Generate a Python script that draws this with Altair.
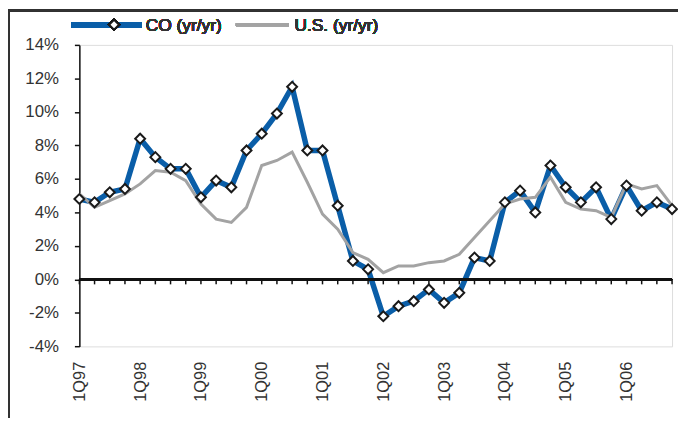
import altair as alt
import pandas as pd

years = ["97", "98", "99", "00", "01", "02", "03", "04", "05", "06"]
quarters = [f"{q}Q{y}" for y in years for q in range(1, 5)]

co = [4.8, 4.6, 5.2, 5.4, 8.4, 7.3, 6.6, 6.6, 4.9, 5.9, 5.5, 7.7,
      8.7, 9.9, 11.5, 7.7, 7.7, 4.4, 1.1, 0.6, -2.2, -1.6, -1.3, -0.6,
      -1.4, -0.8, 1.3, 1.1, 4.6, 5.3, 4.0, 6.8, 5.5, 4.6, 5.5, 3.6,
      5.6, 4.1, 4.6, 4.2]
us = [5.1, 4.3, 4.7, 5.1, 5.7, 6.5, 6.4, 5.9, 4.5, 3.6, 3.4, 4.3,
      6.8, 7.1, 7.6, 5.8, 3.9, 3.0, 1.6, 1.2, 0.4, 0.8, 0.8, 1.0,
      1.1, 1.5, 2.5, 3.5, 4.5, 4.8, 4.9, 6.1, 4.6, 4.2, 4.1, 3.7,
      5.7, 5.4, 5.6, 4.4]
label_quarters = [q for q in quarters if q.startswith("1Q")]
y_ticks = [-4, -2, 0, 2, 4, 6, 8, 10, 12, 14]

BLUE = "#0A5EA8"
GREY = "#A3A3A3"
TXT = "#333333"
FONT = "Arial"
W, H = 598, 304.2

df = pd.DataFrame({"q": quarters, "co": co, "us": us})

x_scale = alt.Scale(type="point", padding=0, domain=quarters)
x_axis = alt.Axis(values=label_quarters, labelAngle=270, domain=False,
                  ticks=False, labelPadding=15, labelFont=FONT,
                  labelFontSize=16.5, labelColor=TXT, title=None,
                  labelAlign="right", labelBaseline="middle",
                  labelOverlap=False, grid=False)
x_enc = alt.X("q:O", sort=quarters, scale=x_scale, axis=x_axis)
y_scale = alt.Scale(domain=[-4, 14], nice=False, zero=False)
y_axis = alt.Axis(values=y_ticks, labelExpr="datum.value + '%'", grid=False,
                  domainColor="#111", domainWidth=1.5, tickColor="#111",
                  tickWidth=1.5, tickSize=5, labelPadding=16, labelFont=FONT,
                  labelFontSize=17, labelColor=TXT, title=None,
                  labelOverlap=False, labelFontWeight="normal")


def y_enc(field):
    return alt.Y(f"{field}:Q", scale=y_scale, axis=y_axis, title=None)


base = alt.Chart(df)

co_line = base.mark_line(color=BLUE, strokeWidth=5.5).encode(x=x_enc, y=y_enc("co"))
us_line = base.mark_line(color=GREY, strokeWidth=3).encode(x=x_enc, y=y_enc("us"))
co_pts = base.mark_point(shape="diamond", filled=True, fill="white",
                         stroke="#1a1a1a", strokeWidth=2, size=100,
                         opacity=1).encode(x=x_enc, y=y_enc("co"))

zero_line = base.mark_rule(color="#111", strokeWidth=1.5).encode(
    x=alt.value(0), x2=alt.value(W),
    y=alt.YDatum(0, type="quantitative", scale=y_scale, axis=y_axis))
zero_ticks = base.mark_rule(color="#111", strokeWidth=1.5, y2Offset=5).encode(
    x=x_enc, y=alt.YDatum(0, type="quantitative", scale=y_scale, axis=y_axis),
    y2=alt.datum(0))

# legend
LY = -20.4
txt_kw = dict(align="left", baseline="middle", font=FONT, fontSize=17.5,
              fontWeight="normal", color=TXT)
leg_co_line = base.mark_rule(color=BLUE, strokeWidth=5.5).encode(
    x=alt.value(-8), x2=alt.value(63), y=alt.value(LY))
leg_co_pt = base.mark_point(shape="diamond", filled=True, fill="white",
                            stroke="#1a1a1a", strokeWidth=2, size=100,
                            opacity=1).encode(x=alt.value(35), y=alt.value(LY))
leg_co_txt = base.mark_text(**txt_kw).encode(
    x=alt.value(67), y=alt.value(LY + 1), text=alt.value("CO (yr/yr)"))
leg_us_line = base.mark_rule(color=GREY, strokeWidth=3).encode(
    x=alt.value(158), x2=alt.value(211), y=alt.value(LY))
leg_us_txt = base.mark_text(**txt_kw).encode(
    x=alt.value(217), y=alt.value(LY + 1), text=alt.value("U.S. (yr/yr)"))

# outer frame (cropped box around the exhibit)
frame_top = base.mark_rule(color="#333", strokeWidth=1.5).encode(
    x=alt.value(-71.5), x2=alt.value(640), y=alt.value(-34.6))
frame_left = base.mark_rule(color="#333", strokeWidth=1.5).encode(
    x=alt.value(-71.3), y=alt.value(-34.6), y2=alt.value(420))

chart = alt.layer(
    co_line, zero_line, zero_ticks, us_line, co_pts,
    leg_co_line, leg_co_pt, leg_co_txt, leg_us_line, leg_us_txt,
    frame_top, frame_left,
).properties(
    width=W, height=H,
    autosize=alt.AutoSizeParams(type="none"),
    padding={"left": 72, "top": 35.4, "right": 6, "bottom": 70},
).configure_view(strokeWidth=0).configure_axis(
    labelOverlap=False, grid=False
).configure(background="white")

chart.save("out.html", embed_options={"renderer": "svg", "actions": False})
